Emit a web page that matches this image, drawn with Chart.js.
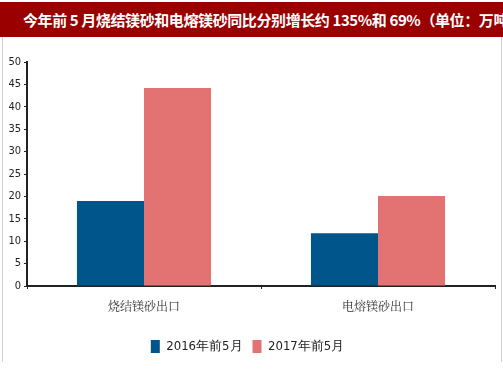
<!DOCTYPE html>
<html>
<head>
<meta charset="utf-8">
<script src="https://cdn.jsdelivr.net/npm/chart.js@4.4.0/dist/chart.umd.min.js"></script>
<style>
  body { margin: 0; background: #fff; }
  #wrap { position: relative; width: 503px; height: 378px; overflow: hidden; }
  #title {
    position: absolute; left: 0; top: 2px; width: 503px; height: 35px;
    background: #9b0000; color: #fff; white-space: nowrap; overflow: hidden;
    font: bold 15px "Noto Sans CJK SC", sans-serif; line-height: 35px;
    padding-left: 23px; box-sizing: border-box; letter-spacing: -0.4px;
  }
  #frame {
    position: absolute; left: 2px; top: 37px; width: 498px; height: 325px;
    border-left: 1px solid #d0d0d0; border-right: 1px solid #d0d0d0;
  }
  canvas { position: absolute; left: 0; top: 0; }
</style>
</head>
<body>
<div id="wrap">
  <div id="frame"></div>
  <div id="title">今年前 5 月烧结镁砂和电熔镁砂同比分别增长约 135%和 69%（单位：万吨）</div>
  <canvas id="chart" width="503" height="378"></canvas>
</div>
<script>
const categories = ['烧结镁砂出口', '电熔镁砂出口']
const seriesNames = ['2016年前5月', '2017年前5月']
const values2016 = [19.0, 11.8]
const values2017 = [44.2, 20.1]
const yTicks = [0, 5, 10, 15, 20, 25, 30, 35, 40, 45, 50]

const narrow = '"DejaVu Sans Condensed", "Liberation Sans Narrow", sans-serif'

const ctx = document.getElementById('chart')
new Chart(ctx, {
  type: 'bar',
  data: {
    labels: categories,
    datasets: [
      { label: seriesNames[0], data: values2016, backgroundColor: '#00558a' },
      { label: seriesNames[1], data: values2017, backgroundColor: '#e37373' },
    ],
  },
  options: {
    responsive: false,
    animation: false,
    layout: { padding: { left: 0, right: 8, top: 62, bottom: 15 } },
    datasets: { bar: { categoryPercentage: 0.573, barPercentage: 1 } },
    plugins: {
      tooltip: { enabled: false },
      legend: {
        position: 'bottom',
        labels: {
          boxWidth: 9, boxHeight: 13, padding: 10, color: '#222',
          font: { family: narrow, size: 13 },
        },
      },
    },
    scales: {
      x: {
        grid: { offset: true, drawOnChartArea: false, tickLength: 3, color: '#222' },
        border: { color: '#222', width: 2 },
        ticks: { padding: 10, color: '#333', font: { family: '"Noto Serif CJK SC", "Noto Sans CJK SC", serif', size: 12 } },
        afterFit: (s) => { s.height = 44 },
      },
      y: {
        min: 0, max: 50,
        afterBuildTicks: (s) => { s.ticks = yTicks.map((v) => ({ value: v })) },
        grid: { drawOnChartArea: false, tickLength: 3, color: '#222' },
        border: { color: '#222', width: 2 },
        ticks: { padding: 3, color: '#222', font: { family: narrow, size: 11 } },
        afterFit: (s) => { s.width = 27 },
      },
    },
  },
})
</script>
</body>
</html>
